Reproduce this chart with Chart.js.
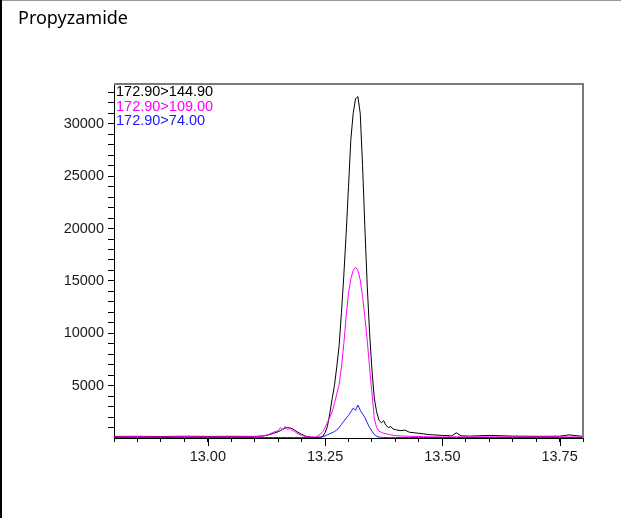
<!DOCTYPE html>
<html>
<head>
<meta charset="utf-8">
<script src="https://cdn.jsdelivr.net/npm/chart.js@4/dist/chart.umd.min.js"></script>
<style>
  html, body { margin: 0; padding: 0; background: #fff; }
  #wrap { width: 621px; height: 518px; position: relative; }
</style>
</head>
<body>
<div id="wrap"><canvas id="chrom"></canvas></div>
<script>
const title = 'Propyzamide';
const traceLabels = ['172.90>144.90', '172.90>109.00', '172.90>74.00'];
const traceColors = ['#000000', '#ff00ff', '#1a1aff'];
const xTickLabels = ['13.00', '13.25', '13.50', '13.75'];
const yTickLabels = ['5000', '10000', '15000', '20000', '25000', '30000'];

const times = [
  12.80, 12.85, 12.90, 12.95, 13.00, 13.05, 13.10, 13.12, 13.13, 13.14,
  13.15, 13.155, 13.16, 13.165, 13.17, 13.175, 13.18, 13.185, 13.19, 13.20,
  13.21, 13.22, 13.23, 13.24, 13.245, 13.25, 13.255, 13.26, 13.265, 13.27,
  13.275, 13.28, 13.285, 13.29, 13.295, 13.30, 13.305, 13.31, 13.315, 13.32,
  13.325, 13.33, 13.335, 13.34, 13.345, 13.35, 13.355, 13.36, 13.365, 13.37,
  13.375, 13.38, 13.385, 13.39, 13.395, 13.40, 13.41, 13.42, 13.43, 13.44,
  13.45, 13.46, 13.47, 13.48, 13.50, 13.52, 13.53, 13.54, 13.56, 13.60,
  13.65, 13.70, 13.75, 13.77, 13.80
];

const quant = [
  150, 160, 140, 170, 150, 160, 150, 200, 300, 450,
  600, 700, 850, 950, 1000, 950, 900, 750, 600, 350,
  150, 80, 60, 80, 150, 500, 1100, 2300, 3700, 5000,
  6800, 8800, 12000, 15500, 19500, 24000, 28500, 31000, 32400, 32600,
  31000, 26000, 20000, 14500, 10000, 6500, 3800, 2500, 1700, 1450,
  1650, 1200, 1000, 1100, 850, 800, 700, 750, 550, 500,
  450, 400, 330, 300, 250, 200, 500, 200, 180, 250,
  180, 160, 170, 300, 150
];

const qual1 = [
  100, 110, 100, 110, 100, 100, 110, 200, 350, 550,
  700, 1000, 750, 1100, 800, 950, 700, 650, 450, 250,
  120, 80, 100, 350, 620, 1000, 1500, 1950, 2500, 3300,
  4200, 5100, 6800, 9000, 11600, 13850, 15200, 16000, 16300, 16000,
  15100, 13500, 11500, 9300, 6700, 4300, 1900, 1000, 650, 550,
  450, 400, 350, 300, 260, 230, 200, 180, 160, 150,
  140, 130, 120, 110, 100, 100, 110, 100, 100, 110,
  100, 100, 110, 100, 100
];

const qual2 = [
  40, 40, 40, 40, 40, 40, 40, 40, 45, 45,
  50, 50, 50, 50, 50, 50, 50, 45, 45, 40,
  40, 40, 40, 60, 100, 200, 300, 400, 500, 620,
  760, 1000, 1300, 1600, 1900, 2150, 2500, 2850, 2650, 3150,
  2650, 2300, 1950, 1450, 1000, 650, 350, 180, 90, 60,
  40, 40, 40, 40, 40, 40, 40, 40, 40, 40,
  40, 40, 40, 40, 40, 40, 40, 40, 40, 40,
  40, 40, 40, 40, 40
];

const series = [quant, qual1, qual2];
const axisFont = { family: '"Liberation Sans", Arial, sans-serif', size: 14.5 };

const frame = {
  id: 'frame',
  afterDraw(chart) {
    const { ctx, chartArea: a, scales } = chart;
    ctx.save();
    // outer border
    ctx.fillStyle = '#9a9a9a';
    ctx.fillRect(0, 0, 621, 1);
    ctx.fillStyle = '#000';
    ctx.fillRect(0, 0, 2, 518);
    // top / right plot frame
    ctx.fillStyle = '#7a7a7a';
    ctx.fillRect(a.left, a.top - 1, a.right - a.left + 1, 2);
    ctx.fillRect(a.right - 1, a.top - 1, 2, a.bottom - a.top + 1);
    // longer major x ticks
    ctx.strokeStyle = '#000';
    ctx.lineWidth = 1;
    xTickLabels.forEach(l => {
      const px = Math.round(scales.x.getPixelForValue(parseFloat(l))) + 0.5;
      ctx.beginPath();
      ctx.moveTo(px, a.bottom);
      ctx.lineTo(px, a.bottom + 8);
      ctx.stroke();
    });
    // title
    ctx.fillStyle = '#000';
    ctx.font = '18px "Noto Sans", sans-serif';
    ctx.textBaseline = 'alphabetic';
    ctx.fillText(title, 18, 24);
    // trace labels
    ctx.font = '14.5px "Liberation Sans", Arial, sans-serif';
    ctx.textBaseline = 'middle';
    traceLabels.forEach((t, i) => {
      ctx.fillStyle = traceColors[i];
      ctx.fillText(t, a.left + 2, a.top + 8 + i * 14.5);
    });
    ctx.restore();
  }
};

new Chart(document.getElementById('chrom'), {
  type: 'line',
  data: {
    datasets: series.map((s, i) => ({
      label: traceLabels[i],
      data: times.map((t, j) => ({ x: t, y: s[j] })),
      borderColor: traceColors[i],
      borderWidth: 1,
      pointRadius: 0,
      tension: 0,
      fill: false
    })).reverse()
  },
  options: {
    responsive: true,
    maintainAspectRatio: false,
    animation: false,
    layout: { padding: { left: 0, top: 84, right: 38, bottom: 0 } },
    plugins: { legend: { display: false }, tooltip: { enabled: false } },
    scales: {
      x: {
        type: 'linear',
        min: 12.8,
        max: 13.8,
        afterFit(s) { s.height = 80; },
        afterBuildTicks(s) {
          const t = [];
          for (let k = 0; k <= 20; k++) t.push({ value: (1280 + 5 * k) / 100 });
          s.ticks = t;
        },
        border: { display: true, color: '#000', width: 1 },
        grid: { display: true, drawOnChartArea: false, tickLength: 4, color: '#000' },
        ticks: {
          autoSkip: false,
          maxRotation: 0,
          padding: 6,
          color: '#1a1a1a',
          font: axisFont,
          callback(v) {
            const s = v.toFixed(2);
            return xTickLabels.includes(s) ? s : '';
          }
        }
      },
      y: {
        type: 'linear',
        min: 0,
        max: 33800,
        afterFit(s) { s.width = 114; },
        afterBuildTicks(s) {
          const t = [];
          for (let v = 1000; v <= 33000; v += 1000) t.push({ value: v });
          s.ticks = t;
        },
        border: { display: true, color: '#000', width: 1 },
        grid: { display: true, drawOnChartArea: false, tickLength: 6, color: '#000' },
        ticks: {
          autoSkip: false,
          padding: 4,
          color: '#1a1a1a',
          font: axisFont,
          callback(v) {
            const s = String(v);
            return yTickLabels.includes(s) ? s : '';
          }
        }
      }
    }
  },
  plugins: [frame]
});
</script>
</body>
</html>
